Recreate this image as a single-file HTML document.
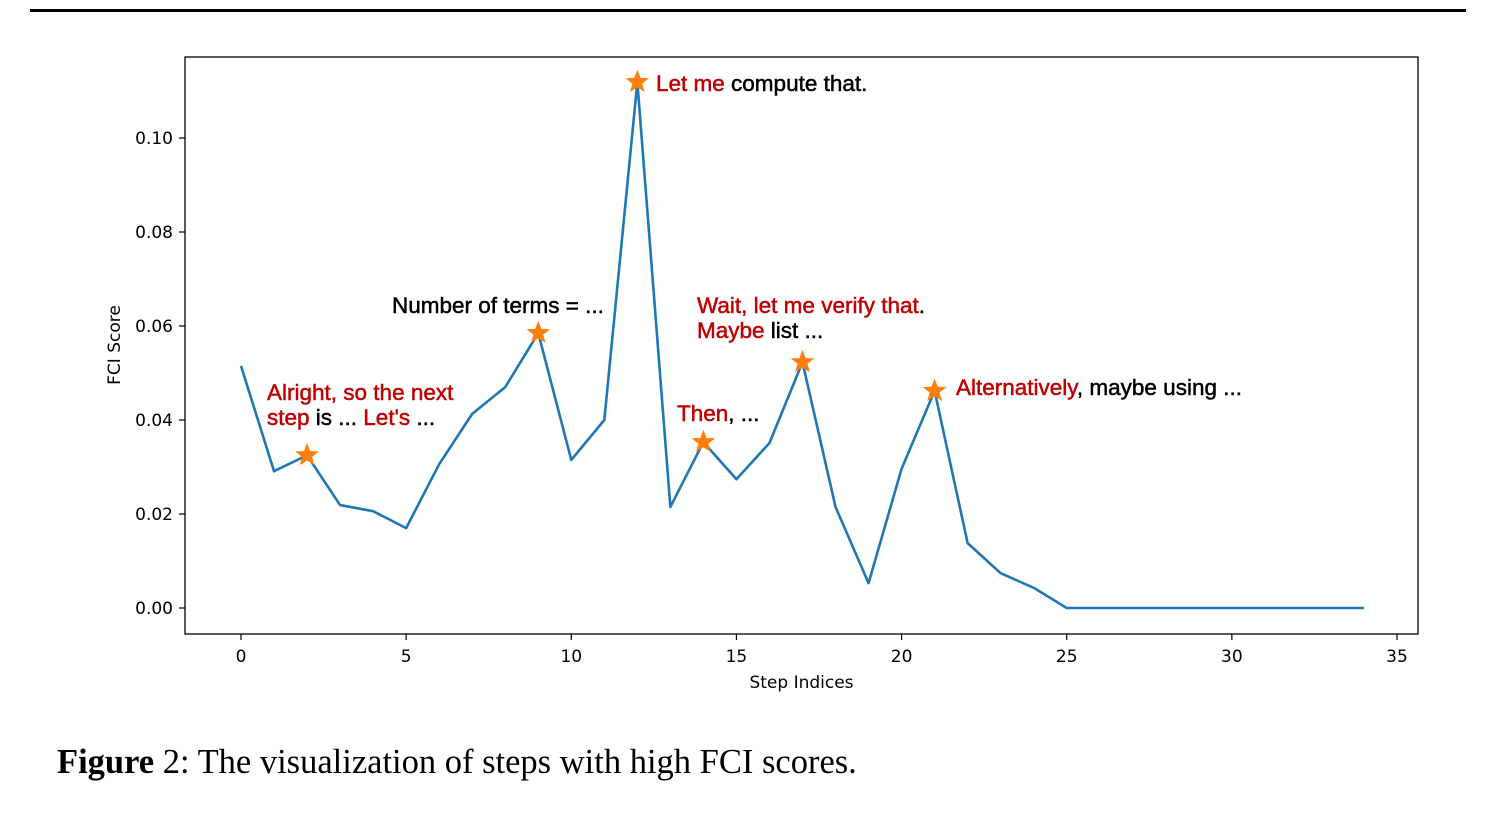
<!DOCTYPE html>
<html><head><meta charset="utf-8"><style>
body{margin:0;background:#fff;width:1486px;height:814px;overflow:hidden;position:relative;font-family:"DejaVu Sans",sans-serif}
#rule{position:absolute;left:30px;top:9px;width:1436px;height:3px;background:#000}
#cap{position:absolute;left:57px;top:743px;font-family:"Liberation Serif",serif;font-size:34.5px;color:#000;white-space:nowrap}
</style></head><body>
<div id="rule"></div>
<svg id="chart" width="1486" height="814" style="position:absolute;left:0;top:0"></svg>
<div id="cap"><b>Figure</b> 2: The visualization of steps with high FCI scores.</div>
<script>
const steps=[0,1,2,3,4,5,6,7,8,9,10,11,12,13,14,15,16,17,18,19,20,21,22,23,24,25,26,27,28,29,30,31,32,33,34];
const scores=[0.0515,0.0291,0.0325,0.0219,0.0206,0.0170,0.0306,0.0413,0.0470,0.0585,0.0315,0.0400,0.1119,0.0215,0.0353,0.0274,0.0351,0.0523,0.0215,0.0053,0.0296,0.0462,0.0138,0.0074,0.0043,0,0,0,0,0,0,0,0,0,0];
const starSteps=[2,9,12,14,17,21];
const xTicks=[0,5,10,15,20,25,30,35];
const yTicks=[0,0.02,0.04,0.06,0.08,0.10];
const yTickLabels=["0.00","0.02","0.04","0.06","0.08","0.10"];
const NS="http://www.w3.org/2000/svg";
const svg=document.getElementById('chart');
const X0=185,X1=1418,Y0=57,Y1=634;
const xs=v=>241+v*(1397-241)/35;
const ys=v=>608-v*4700;
function el(t,a,p){const e=document.createElementNS(NS,t);for(const k in a)e.setAttribute(k,a[k]);(p||svg).appendChild(e);return e;}
const frame=el('rect',{x:X0,y:Y0,width:X1-X0,height:Y1-Y0,fill:'none',stroke:'#000','stroke-width':1.3});


xTicks.forEach(t=>{
  const l=el('line',{x1:xs(t),x2:xs(t),y1:Y1,y2:Y1+6,stroke:'#000','stroke-width':1.2});
  
  
  const tx=el('text',{x:xs(t),y:Y1+28,'text-anchor':'middle','font-size':17});
  tx.textContent=t;
  
  
});
yTicks.forEach((t,i)=>{
  const l=el('line',{x1:X0-6,x2:X0,y1:ys(t),y2:ys(t),stroke:'#000','stroke-width':1.2});
  
  
  const tx=el('text',{x:X0-12,y:ys(t)+6,'text-anchor':'end','font-size':17});
  tx.textContent=yTickLabels[i];
  
  
});
const xt=el('text',{x:(X0+X1)/2,y:688,'text-anchor':'middle','font-size':17});
xt.textContent='Step Indices';


const yt=el('text',{x:0,y:0,'text-anchor':'middle','font-size':17,transform:'translate(120,345) rotate(-90)'});
yt.textContent='FCI Score';


const line=el('polyline',{points:steps.map((s,i)=>xs(s)+','+ys(scores[i])).join(' '),fill:'none',stroke:'#1f77b4','stroke-width':2.6,'stroke-linejoin':'round'});


function star(cx,cy,r){let p=[];for(let i=0;i<10;i++){const a=-Math.PI/2+i*Math.PI/5;const rr=i%2?r*0.42:r;p.push((cx+rr*Math.cos(a)).toFixed(1)+','+(cy+rr*Math.sin(a)).toFixed(1));}return p.join(' ');}
starSteps.forEach(s=>{
  const st=el('polygon',{points:star(xs(s),ys(scores[s]),11),fill:'#ff7f0e',stroke:'#ff7f0e','stroke-width':1});
  
  
});
const R='#c00000',K='#000';
const notes=[
 [656,91,[['Let me',R],[' compute that.',K]]],
 [267,400,[['Alright',R],[', so the next',R]]],
 [267,425,[['step',R],[' is ... ',K],["Let's",R],[' ...',K]]],
 [392,313,[['Number of terms = ...',K]]],
 [697,313,[['Wait, let me verify that',R],['.',K]]],
 [697,338,[['Maybe',R],[' list ...',K]]],
 [677,421,[['Then',R],[', ...',K]]],
 [956,395,[['Alternatively',R],[', maybe using ...',K]]]
];
notes.forEach(n=>{
  const t=el('text',{x:n[0],y:n[1],'font-size':22.5,'font-family':'"Liberation Sans",sans-serif','stroke-width':0.5});
  
  
  n[2].forEach(p=>{const s=el('tspan',{fill:p[1],stroke:p[1]},t);s.textContent=p[0];});
});
</script>
</body></html>
